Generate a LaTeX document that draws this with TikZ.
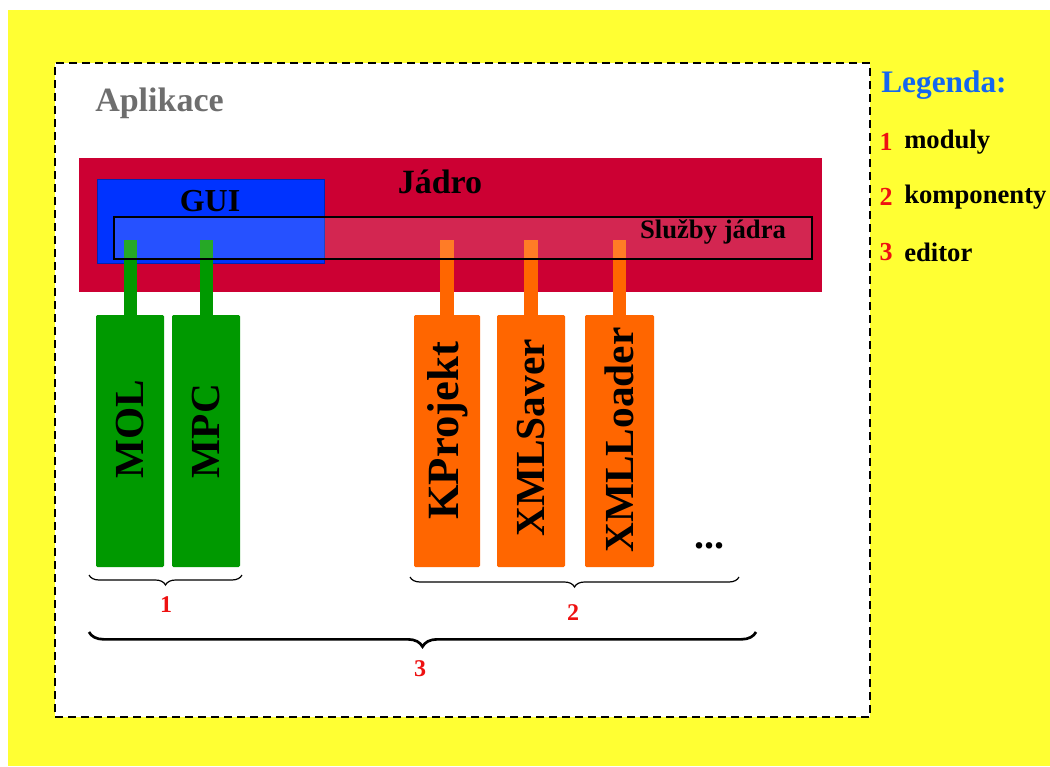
\documentclass[tikz,border=0pt]{standalone}
\usepackage{fontspec}
\setmainfont{Liberation Serif}
\usetikzlibrary{decorations.pathreplacing,calc}
\definecolor{bgyellow}{HTML}{FFFF33}
\definecolor{jred}{HTML}{CC0033}
\definecolor{guiblue}{HTML}{0033FF}
\definecolor{modgreen}{HTML}{009900}
\definecolor{comporange}{HTML}{FF6600}
\definecolor{legblue}{HTML}{1466F0}
\definecolor{numred}{HTML}{EE1111}
\definecolor{apgray}{HTML}{6E6E6E}
\begin{document}
\begin{tikzpicture}[x=0.75pt,y=-0.75pt,
  rbox/.style={inner sep=0pt, outer sep=0pt},
  appbox/.style={rbox, draw=black, fill=white, line width=1.1pt, dash pattern=on 6pt off 3.75pt, minimum width=611.25pt, minimum height=490.5pt},
  modbox/.style={rbox, fill=modgreen, rounded corners=1pt, minimum width=51pt, minimum height=189pt},
  compbox/.style={rbox, fill=comporange, rounded corners=1pt, minimum width=51pt, minimum height=189pt},
  vlabel/.style={rotate=90, font=\fontsize{31pt}{36pt}\selectfont\bfseries, text=black, inner sep=0pt},
  gstem/.style={draw=modgreen, line width=9.75pt},
  ostem/.style={draw=comporange, line width=10pt},
  bigtxt/.style={font=\fontsize{25.5pt}{30pt}\selectfont\bfseries, inner sep=0pt},
  legtxt/.style={font=\fontsize{20pt}{24pt}\selectfont\bfseries, inner sep=0pt, anchor=west},
  numtxt/.style={font=\fontsize{19.5pt}{22pt}\selectfont\bfseries, text=numred, inner sep=0pt},
  bracelbl/.style={font=\fontsize{18pt}{22pt}\selectfont\bfseries, text=numred, inner sep=0pt},
  brc/.style={draw=black, line width=0.9pt, decorate, decoration={brace, mirror, amplitude=7.5pt}},
  bigbrc/.style={draw=black, line width=2pt, decorate, decoration={brace, mirror, amplitude=11pt}}
]
\useasboundingbox (0,0) rectangle (1050,767);
\fill[bgyellow] (8,10) rectangle (1050,766);

% application frame
\node[appbox] (app) at (462.5,390) {};
\node[bigtxt, text=apgray, anchor=west] (aplt) at (95,103) {Aplikace};

% kernel
\node[rbox, fill=jred, minimum width=557.25pt, minimum height=100.5pt] (jadro) at (450.5,225) {};
\node[rbox, fill=guiblue, draw=guiblue!70!black, line width=0.4pt, minimum width=170.25pt, minimum height=63pt] (gui) at (210.5,221) {};

% modules and components
\node[modbox] (mol) at (130,441) {};
\node[modbox] (mpc) at (206,441) {};
\node[compbox, minimum width=49.5pt] (kproj) at (447,441) {};
\node[compbox] (xsave) at (531,441) {};
\node[compbox, minimum width=51.75pt] (xload) at (619.5,441) {};

\coordinate (stemtop) at (0,240);
\draw[gstem] (mol.north) -- (mol.north |- stemtop);
\draw[gstem] (mpc.north) -- (mpc.north |- stemtop);
\draw[ostem] (kproj.north) -- (kproj.north |- stemtop);
\draw[ostem] (xsave.north) -- (xsave.north |- stemtop);
\draw[ostem] (xload.north) -- (xload.north |- stemtop);

% kernel services (translucent)
\node[rbox, fill=white, fill opacity=0.15, draw=black, draw opacity=1, line width=0.9pt, minimum width=523.5pt, minimum height=31.5pt] (sluzby) at (463,238) {};

\node[bigtxt] (jadrot) at (440,182) {Jádro};
\node[bigtxt, font=\fontsize{24pt}{28pt}\selectfont\bfseries] (guit) at (210,201) {GUI};
\node[inner sep=0pt, font=\fontsize{20pt}{24pt}\selectfont\bfseries] (sluzbyt) at (713,232) {Služby jádra};

\node[vlabel] (molt) at ($(mol)+(0,-12)$) {MOL};
\node[vlabel] (mpct) at ($(mpc)+(0,-10)$) {MPC};
\node[vlabel, font=\fontsize{33.5pt}{38pt}\selectfont\bfseries] (kprojt) at ($(kproj)+(1,-10)$) {KProjekt};
\node[vlabel] (xsavet) at ($(xsave)+(0,-3)$) {XMLSaver};
\node[vlabel] (xloadt) at ($(xload)+(0,-1)$) {XMLLoader};
\node[inner sep=0pt, font=\fontsize{30pt}{34pt}\selectfont\bfseries] (dots) at (709,546) {...};

% braces
\coordinate (b1a) at (89,575);
\coordinate (b1b) at (242,575);
\coordinate (b2a) at (410,577);
\coordinate (b2b) at (739,577);
\coordinate (b3a) at (89,632);
\coordinate (b3b) at (756,632);
\draw[brc] (b1a) -- (b1b);
\draw[brc] (b2a) -- (b2b);
\draw[bigbrc] (b3a) -- (b3b);
\node[bracelbl] (l1) at (166,605) {1};
\node[bracelbl] (l2) at (573,613) {2};
\node[bracelbl] (l3) at (420,669) {3};

% legend
\node[font=\fontsize{23.5pt}{28pt}\selectfont\bfseries, text=legblue, inner sep=0pt, anchor=west] (leg) at (881,85) {Legenda:};
\node[numtxt] (n1) at (886,142) {1};
\node[legtxt] (t1) at (904,142) {moduly};
\node[numtxt] (n2) at (886,197) {2};
\node[legtxt] (t2) at (904,197) {komponenty};
\node[numtxt] (n3) at (886,252) {3};
\node[legtxt] (t3) at (904,252) {editor};
\end{tikzpicture}
\end{document}
